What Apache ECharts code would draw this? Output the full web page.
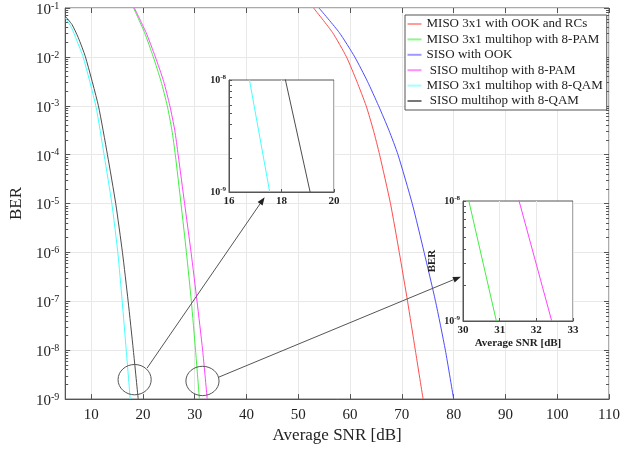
<!DOCTYPE html>
<html>
<head>
<meta charset="utf-8">
<script src="https://cdn.jsdelivr.net/npm/echarts@6/dist/echarts.min.js"></script>
<style>
  html, body { margin: 0; padding: 0; background: #fff; }
  #chart { width: 623px; height: 449px; }
</style>
</head>
<body>
<div id="chart"></div>
<script>
// values (SNR in dB, BER)
const snrMisoOok = [52.95, 56.6, 59.3, 61.3, 63.1, 64.5, 65.7, 67.8, 69.5, 71.1, 72.6, 74.1];
const berMisoOok = [1e-1, 3.16e-2, 1e-2, 3.16e-3, 1e-3, 3.16e-4, 1e-4, 1e-5, 1e-6, 1e-7, 1e-8, 1e-9];

const snrSisoOok = [54.0, 57.9, 60.9, 63.35, 65.5, 67.5, 69.25, 72.0, 74.3, 76.5, 78.4, 80.0];
const berSisoOok = [1e-1, 3.16e-2, 1e-2, 3.16e-3, 1e-3, 3.16e-4, 1e-4, 1e-5, 1e-6, 1e-7, 1e-8, 1e-9];

const snrMisoPam = [18.2, 20.3, 22.0, 23.5, 24.7, 25.6, 26.25, 27.35, 28.4, 29.35, 30.16, 30.91];
const berMisoPam = [1e-1, 3.16e-2, 1e-2, 3.16e-3, 1e-3, 3.16e-4, 1e-4, 1e-5, 1e-6, 1e-7, 1e-8, 1e-9];

const snrSisoPam = [18.35, 20.6, 22.4, 24.0, 25.2, 26.15, 26.8, 28.05, 29.3, 30.45, 31.53, 32.42];
const berSisoPam = [1e-1, 3.16e-2, 1e-2, 3.16e-3, 1e-3, 3.16e-4, 1e-4, 1e-5, 1e-6, 1e-7, 1e-8, 1e-9];

const snrMisoQam = [5, 6.2, 7.2, 8.45, 10.9, 12.5, 14.0, 15.15, 16.0, 16.78, 17.55];
const berMisoQam = [6.3e-2, 4.0e-2, 2.2e-2, 1e-2, 1e-3, 1e-4, 1e-5, 1e-6, 1e-7, 1e-8, 1e-9];

const snrSisoQam = [5, 6.3, 7.5, 8.9, 11.4, 13.15, 14.75, 16.05, 17.15, 18.15, 19.09];
const berSisoQam = [6.8e-2, 4.6e-2, 2.5e-2, 1e-2, 1e-3, 1e-4, 1e-5, 1e-6, 1e-7, 1e-8, 1e-9];

const seriesNames = [
  'MISO 3x1 with OOK and RCs',
  'MISO 3x1 multihop with 8-PAM',
  'SISO with OOK',
  ' SISO multihop with 8-PAM',
  'MISO 3x1 multihop with 8-QAM',
  ' SISO multihop with 8-QAM'
];
const seriesColors = ['#ff4d4d', '#44ee44', '#4d4dff', '#ff44ff', '#44ffff', '#4d4d4d'];
const legendColors = ['#ff9c9c', '#8ff58f', '#9c9cff', '#ff8fff', '#a0ffff', '#777777'];

const xTicks = [10, 20, 30, 40, 50, 60, 70, 80, 90, 100, 110];
const yDecades = [1e-9, 1e-8, 1e-7, 1e-6, 1e-5, 1e-4, 1e-3, 1e-2, 1e-1];
const inset1XTicks = [16, 18, 20];
const inset2XTicks = [30, 31, 32, 33];
const insetYTicks = [1e-9, 1e-8];

// log minor ticks 2..9 in each decade
function minorTicks(lo, hi) {
  const out = [];
  for (let e = lo; e < hi; e++) {
    for (let m = 2; m <= 9; m++) out.push(m * Math.pow(10, e));
  }
  return out;
}

function zip(xs, ys) {
  return xs.map((x, i) => [x, ys[i]]);
}

const allData = [
  zip(snrMisoOok, berMisoOok),
  zip(snrMisoPam, berMisoPam),
  zip(snrSisoOok, berSisoOok),
  zip(snrSisoPam, berSisoPam),
  zip(snrMisoQam, berMisoQam),
  zip(snrSisoQam, berSisoQam)
];

const serif = "'Liberation Serif', 'Times New Roman', serif";
const axisColor = '#555';
const gridColor = '#e8e8e8';

function powLabel(v) {
  const e = Math.round(Math.log10(v));
  return '{b|10}{s|' + e + '}';
}

const mainRich = {
  b: { fontFamily: serif, fontSize: 15, color: '#222', lineHeight: 18 },
  s: { fontFamily: serif, fontSize: 10, color: '#222', verticalAlign: 'top', lineHeight: 11 }
};
const insetRich = {
  b: { fontFamily: serif, fontSize: 10, fontWeight: 'bold', color: '#222', lineHeight: 13 },
  s: { fontFamily: serif, fontSize: 7, fontWeight: 'bold', color: '#222', verticalAlign: 'top', lineHeight: 8 }
};

const chart = echarts.init(document.getElementById('chart'), null, { renderer: 'canvas' });

const grids = [
  { left: 46.8, top: 8, right: 10.5, bottom: 42, show: true, borderColor: axisColor, borderWidth: 1 },
  { left: 229, top: 80, width: 105, height: 112, show: true, backgroundColor: '#fff',
    borderColor: axisColor, borderWidth: 1, z: 5 },
  { left: 463, top: 201, width: 110, height: 120, show: true, backgroundColor: '#fff',
    borderColor: axisColor, borderWidth: 1, z: 5 }
];

const xAxes = [
  {
    gridIndex: 0, type: 'value', min: 5, max: 110, position: 'bottom',
    name: 'Average SNR [dB]', nameLocation: 'middle', nameGap: 24,
    nameTextStyle: { fontFamily: serif, fontSize: 17, color: '#222' },
    axisLine: { lineStyle: { color: axisColor } },
    axisTick: { inside: true, length: 5, customValues: xTicks, lineStyle: { color: axisColor } },
    axisLabel: { customValues: xTicks, fontFamily: serif, fontSize: 15, color: '#222', margin: 8 },
    splitLine: { show: true, lineStyle: { color: gridColor } }
  },
  {
    gridIndex: 0, type: 'value', min: 5, max: 110, position: 'top',
    axisLine: { show: false },
    axisTick: { inside: true, length: 5, customValues: xTicks, lineStyle: { color: axisColor } },
    axisLabel: { show: false }, splitLine: { show: false }
  },
  {
    gridIndex: 1, type: 'value', min: 16, max: 20, z: 6,
    axisLine: { lineStyle: { color: axisColor } },
    axisTick: { inside: true, length: 3, customValues: inset1XTicks, lineStyle: { color: axisColor } },
    axisLabel: { customValues: inset1XTicks, fontFamily: serif, fontSize: 11, fontWeight: 'bold', color: '#222', margin: 4 },
    splitLine: { show: true, lineStyle: { color: gridColor } }
  },
  {
    gridIndex: 2, type: 'value', min: 30, max: 33, z: 6,
    name: 'Average SNR [dB]', nameLocation: 'middle', nameGap: 17,
    nameTextStyle: { fontFamily: serif, fontSize: 11, fontWeight: 'bold', color: '#222' },
    axisLine: { lineStyle: { color: axisColor } },
    axisTick: { inside: true, length: 3, customValues: inset2XTicks, lineStyle: { color: axisColor } },
    axisLabel: { customValues: inset2XTicks, fontFamily: serif, fontSize: 11, fontWeight: 'bold', color: '#222', margin: 4 },
    splitLine: { show: true, lineStyle: { color: gridColor } }
  }
];

const yAxes = [
  {
    gridIndex: 0, type: 'log', min: 1e-9, max: 1e-1, position: 'left',
    name: 'BER', nameLocation: 'middle', nameGap: 27,
    nameTextStyle: { fontFamily: serif, fontSize: 17, color: '#222' },
    axisLine: { lineStyle: { color: axisColor } },
    axisTick: { inside: true, length: 5, customValues: yDecades, lineStyle: { color: axisColor } },
    axisLabel: { customValues: yDecades, formatter: powLabel, rich: mainRich, margin: 6, padding: [4, 0, 0, 0] },
    splitLine: { show: true, lineStyle: { color: gridColor } }
  },
  {
    gridIndex: 0, type: 'log', min: 1e-9, max: 1e-1, position: 'left',
    axisLine: { show: false },
    axisTick: { inside: true, length: 3, customValues: minorTicks(-9, -1), lineStyle: { color: axisColor } },
    axisLabel: { show: false }, splitLine: { show: false }
  },
  {
    gridIndex: 0, type: 'log', min: 1e-9, max: 1e-1, position: 'right',
    axisLine: { show: false },
    axisTick: { inside: true, length: 5, customValues: yDecades, lineStyle: { color: axisColor } },
    axisLabel: { show: false }, splitLine: { show: false }
  },
  {
    gridIndex: 0, type: 'log', min: 1e-9, max: 1e-1, position: 'right',
    axisLine: { show: false },
    axisTick: { inside: true, length: 3, customValues: minorTicks(-9, -1), lineStyle: { color: axisColor } },
    axisLabel: { show: false }, splitLine: { show: false }
  },
  {
    gridIndex: 1, type: 'log', min: 1e-9, max: 1e-8, z: 6,
    axisLine: { lineStyle: { color: axisColor } },
    axisTick: { inside: true, length: 3, customValues: minorTicks(-9, -8).concat(insetYTicks), lineStyle: { color: axisColor } },
    axisLabel: { customValues: insetYTicks, formatter: powLabel, rich: insetRich, margin: 3 },
    splitLine: { show: false }
  },
  {
    gridIndex: 2, type: 'log', min: 1e-9, max: 1e-8, z: 6,
    name: 'BER', nameLocation: 'middle', nameGap: 25,
    nameTextStyle: { fontFamily: serif, fontSize: 11, fontWeight: 'bold', color: '#222' },
    axisLine: { lineStyle: { color: axisColor } },
    axisTick: { inside: true, length: 3, customValues: minorTicks(-9, -8).concat(insetYTicks), lineStyle: { color: axisColor } },
    axisLabel: { customValues: insetYTicks, formatter: powLabel, rich: insetRich, margin: 3 },
    splitLine: { show: false }
  }
];

const series = [];
allData.forEach((data, i) => {
  series.push({
    name: seriesNames[i], type: 'line', data: data,
    xAxisIndex: 0, yAxisIndex: 0,
    symbol: 'none', smooth: 0.2,
    lineStyle: { color: seriesColors[i], width: 1 },
    itemStyle: { color: legendColors[i] },
    emphasis: { disabled: true }, animation: false
  });
});
// zoomed views: 8-QAM pair in inset 1, 8-PAM pair in inset 2
[[4, 2, 4], [5, 2, 4], [1, 3, 5], [3, 3, 5]].forEach(([i, xi, yi]) => {
  series.push({
    name: seriesNames[i], type: 'line', data: allData[i],
    xAxisIndex: xi, yAxisIndex: yi, z: 7, clip: true,
    symbol: 'none',
    lineStyle: { color: seriesColors[i], width: 1 },
    itemStyle: { color: legendColors[i] },
    emphasis: { disabled: true }, animation: false
  });
});

chart.setOption({
  animation: false,
  backgroundColor: '#fff',
  grid: grids,
  xAxis: xAxes,
  yAxis: yAxes,
  legend: {
    data: seriesNames, orient: 'vertical', left: 405, top: 15,
    padding: [1.5, 4, 1.5, 2.5], itemGap: 0.4, itemWidth: 14, itemHeight: 2, itemTextGap: 2.5,
    icon: 'rect',
    backgroundColor: '#fff', borderColor: axisColor, borderWidth: 1, borderRadius: 0,
    textStyle: { fontFamily: serif, fontSize: 13, color: '#222', lineHeight: 15 },
    selectedMode: false
  },
  series: series
});

// ellipses around the zoomed regions and arrows to the insets (data coordinates of main grid)
const ellipses = [
  { c: [18.4, 2.5e-9], dx: 3.2, dy: 0.31 },
  { c: [31.5, 2.35e-9], dx: 3.2, dy: 0.30 }
];
const arrows = [
  { from: [20.8, 4.3e-9], to: [43.5, 1.35e-5] },
  { from: [34.6, 2.8e-9], to: [81.4, 3.2e-7] }
];

function px(p) {
  return chart.convertToPixel({ xAxisIndex: 0, yAxisIndex: 0 }, p);
}

const graphics = [];
ellipses.forEach((e) => {
  const c = px(e.c);
  const r = px([e.c[0] + e.dx, e.c[1] * Math.pow(10, e.dy)]);
  graphics.push({
    type: 'ellipse', z: 10,
    shape: { cx: c[0], cy: c[1], rx: Math.abs(r[0] - c[0]), ry: Math.abs(r[1] - c[1]) },
    style: { fill: 'none', stroke: '#555', lineWidth: 1 }
  });
});
arrows.forEach((a) => {
  const p0 = px(a.from);
  const p1 = px(a.to);
  const dx = p1[0] - p0[0];
  const dy = p1[1] - p0[1];
  const len = Math.sqrt(dx * dx + dy * dy);
  const ux = dx / len;
  const uy = dy / len;
  const hl = 8;
  const hw = 3;
  const bx = p1[0] - ux * hl;
  const by = p1[1] - uy * hl;
  graphics.push({
    type: 'line', z: 10,
    shape: { x1: p0[0], y1: p0[1], x2: bx, y2: by },
    style: { stroke: '#555', lineWidth: 1 }
  });
  graphics.push({
    type: 'polygon', z: 10,
    shape: { points: [[p1[0], p1[1]], [bx - uy * hw, by + ux * hw], [bx + uy * hw, by - ux * hw]] },
    style: { fill: '#222', stroke: 'none' }
  });
});
chart.setOption({ graphic: graphics });
</script>
</body>
</html>
